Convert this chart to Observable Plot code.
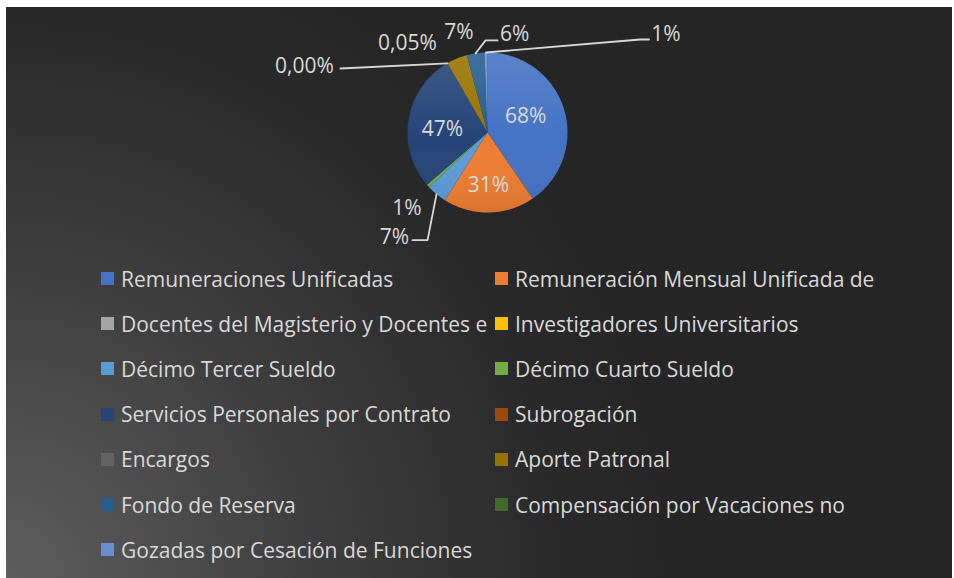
<!DOCTYPE html>
<html><head><meta charset="utf-8">
<script src="https://cdn.jsdelivr.net/npm/d3@7"></script>
<script src="https://cdn.jsdelivr.net/npm/@observablehq/plot@0.6"></script>
<style>
html,body{margin:0;padding:0;background:#fff;}
#panel{position:absolute;left:6px;top:7px;width:946px;height:571px;overflow:hidden;
 background: radial-gradient(circle 780px at 0% 100%, #5e5e5e 0%, #3e3e3e 40%, #2a2a2a 70%, #262626 85%);
 font-family:"Open Sans",sans-serif;color:#d9d9d9;}
#chart svg{display:block;}
#legend{display:grid;grid-template-columns:394px 440px;grid-auto-rows:45.2px;padding-left:95px;}
.item{display:flex;align-items:center;font-size:21px;white-space:nowrap;letter-spacing:0px;}
.sw{width:13px;height:13px;margin-right:7px;flex:none;}
</style></head><body>
<div id="panel"><div id="chart"></div><div id="legend"></div></div>
<script>
// ---- data ----
const categories = [
  "Remuneraciones Unificadas",
  "Remuneración Mensual Unificada de",
  "Docentes del Magisterio y Docentes e",
  "Investigadores Universitarios",
  "Décimo Tercer Sueldo",
  "Décimo Cuarto Sueldo",
  "Servicios Personales por Contrato",
  "Subrogación",
  "Encargos",
  "Aporte Patronal",
  "Fondo de Reserva",
  "Compensación por Vacaciones no",
  "Gozadas por Cesación de Funciones"
];
const values = [68, 31, null, null, 7, 1, 47, 0, 0.05, 7, 6, null, 1];
const colors = ["#4472C4","#ED7D31","#A5A5A5","#FFC000","#5B9BD5","#70AD47","#264478","#9E480E","#636363","#997300","#255E91","#43682B","#698ED0"];

// ---- layout config (label placement relative to slice mid-point) ----
const R = 80;
const labelLayout = {
  "Remuneraciones Unificadas": {k: 0.5, dx: 0, dy: -4},
  "Remuneración Mensual Unificada de": {k: 0.66, dx: 0, dy: 0},
  "Décimo Tercer Sueldo": {k: 1, dx: -42, dy: 43, leader: [[-9, 46], [-24, 46]]},
  "Décimo Cuarto Sueldo": {k: 1, dx: -21, dy: 22},
  "Servicios Personales por Contrato": {k: 0.57, dx: 0, dy: 4},
  "Subrogación": {k: 1, dx: -143, dy: 3, leader: [[-107, 5.2]]},
  "Encargos": {k: 1, dx: -40, dy: -20},
  "Aporte Patronal": {k: 1, dx: 2, dy: -26},
  "Fondo de Reserva": {k: 1, dx: 39, dy: -19, leader: [[10, -13], [22, -13]]},
  "Gozadas por Cesación de Funciones": {k: 1, dx: 180, dy: -18, leader: [[154, -13], [163, -13]]}
};

const fmt = v => (Number.isInteger(v) && v !== 0 ? String(v) : v.toFixed(2).replace(".", ",")) + "%";

const rows = categories.map((name, i) => ({name, v: values[i]}));
const arcs = d3.pie().sort(null).value(d => d.v ?? 0).startAngle(0).endAngle(2 * Math.PI)(rows);

const pt = (a, r) => [r * Math.sin(a), -r * Math.cos(a)];

// slice polygons
const poly = [];
for (const a of arcs) {
  if (a.data.v == null || a.endAngle - a.startAngle <= 0) continue;
  poly.push({name: a.data.name, x: 0, y: 0});
  const n = Math.max(2, Math.ceil((a.endAngle - a.startAngle) / (Math.PI / 360)));
  for (let j = 0; j <= n; j++) {
    const ang = a.startAngle + (a.endAngle - a.startAngle) * j / n;
    const [x, y] = pt(ang, R);
    poly.push({name: a.data.name, x, y});
  }
}

// labels + leaders
const labels = [], leaders = [];
for (const a of arcs) {
  const L = labelLayout[a.data.name];
  if (a.data.v == null || !L) continue;
  const mid = (a.startAngle + a.endAngle) / 2;
  const [ax, ay] = pt(mid, R * L.k);
  labels.push({name: a.data.name, x: ax + L.dx, y: ay + L.dy, text: fmt(a.data.v)});
  if (L.leader) {
    leaders.push({name: a.data.name, x: ax, y: ay});
    for (const [lx, ly] of L.leader) leaders.push({name: a.data.name, x: ax + lx, y: ay + ly});
  }
}

const defsMark = () => {
  const defs = d3.create("svg:defs");
  const g = defs.append("linearGradient").attr("id", "pieShade").attr("x1", 0).attr("y1", 0).attr("x2", 0).attr("y2", 1);
  g.append("stop").attr("offset", "0%").attr("stop-color", "#fff").attr("stop-opacity", 0.12);
  g.append("stop").attr("offset", "55%").attr("stop-color", "#fff").attr("stop-opacity", 0);
  g.append("stop").attr("offset", "100%").attr("stop-color", "#000").attr("stop-opacity", 0.08);
  return defs.node();
};

const W = 946, H = 249, CX = 481, CY = 125;
const chart = Plot.plot({
  width: W, height: H, margin: 0,
  style: {background: "transparent", overflow: "visible"},
  x: {domain: [-CX, W - CX], range: [0, W], axis: null},
  y: {domain: [-CY, H - CY], range: [0, H], axis: null},
  color: {domain: categories, range: colors},
  marks: [
    defsMark,
    Plot.line(poly, {x: "x", y: "y", z: "name", fill: "name", stroke: "none", curve: "linear-closed"}),
    Plot.dot([{x: 0, y: 0}], {x: "x", y: "y", r: R, fill: "url(#pieShade)", stroke: "none"}),
    Plot.line(leaders, {x: "x", y: "y", z: "name", stroke: "#d9d9d9", strokeWidth: 1.8}),
    Plot.text(labels, {x: "x", y: "y", text: "text", fill: "#d9d9d9", fontSize: 21, fontFamily: "Open Sans, sans-serif"})
  ]
});
document.getElementById("chart").append(chart);

const leg = d3.select("#legend");
categories.forEach((c, i) => {
  const it = leg.append("div").attr("class", "item");
  it.append("span").attr("class", "sw").style("background", colors[i]);
  it.append("span").text(c);
});
</script>
</body></html>
